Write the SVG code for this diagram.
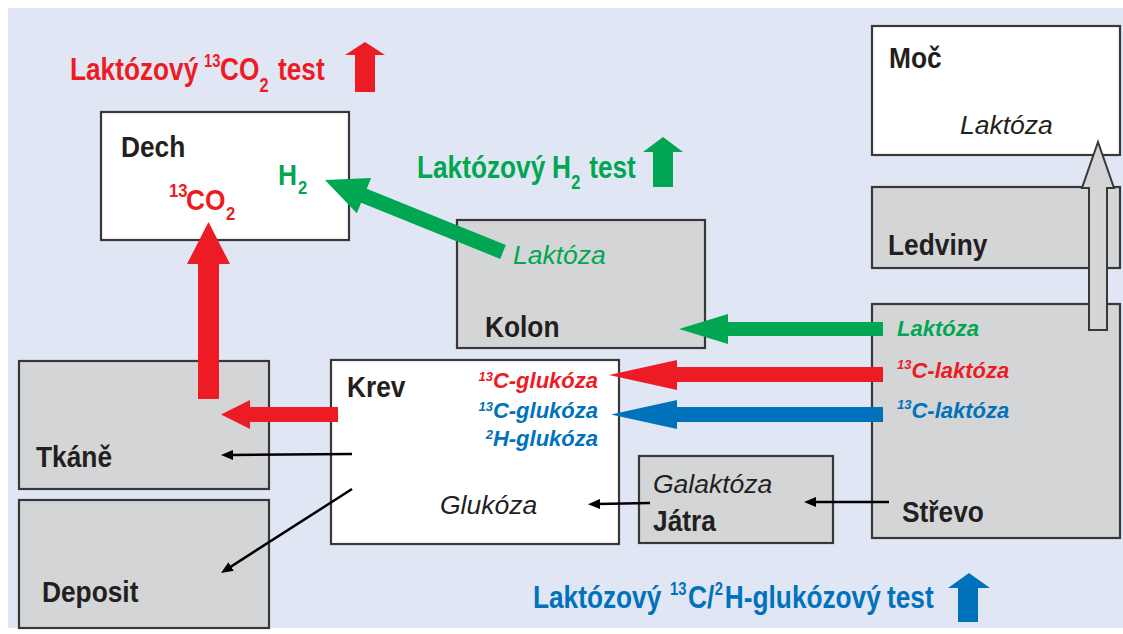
<svg xmlns="http://www.w3.org/2000/svg" width="1123" height="634" viewBox="0 0 1123 634">
  <defs>
    <style>
      .box { stroke: #383838; stroke-width: 2.2; }
      .w { fill: #ffffff; }
      .g { fill: #d4d5d7; }
      .lbl { font-family: "Liberation Sans", Arial, sans-serif; font-weight: bold; font-size: 30px; fill: #231f20; }
      .ttl { font-family: "Liberation Sans", Arial, sans-serif; font-weight: bold; font-size: 32px; }
      .it { font-family: "Liberation Sans", Arial, sans-serif; font-style: italic; font-size: 26.5px; }
      .bi { font-family: "Liberation Sans", Arial, sans-serif; font-weight: bold; font-style: italic; font-size: 22px; }
      .dark { fill: #231f20; }
      .red { fill: #ed1c24; }
      .grn { fill: #00a651; }
      .blu { fill: #0072bc; }
      .thin { stroke: #000; stroke-width: 2.5; fill: none; marker-end: url(#head); }
    </style>
    <marker id="head" markerUnits="userSpaceOnUse" markerWidth="12" markerHeight="10" refX="3" refY="5" orient="auto">
      <path d="M0,0 L12,5 L0,10 z" fill="#000"/>
    </marker>
  </defs>

  <!-- page -->
  <rect x="0" y="0" width="1123" height="634" fill="#ffffff"/>
  <rect x="8" y="8" width="1115" height="620" fill="#e0e6f4"/>

  <!-- test headings with their block arrows -->
  <g id="test-co2">
    <text class="ttl red" transform="translate(70,80) scale(0.82,1)"><tspan x="0" y="0">Laktózový</tspan><tspan x="163.4" y="-13" font-size="18">13</tspan><tspan x="183" y="0">CO</tspan><tspan x="231" y="12" font-size="20">2</tspan><tspan x="253.7" y="0">test</tspan></text>
    <polygon class="red" points="355,92 375,92 375,55 385,55 365,42 345,55 355,55"/>
  </g>
  <g id="test-h2">
    <text class="ttl grn" transform="translate(417,178) scale(0.82,1)"><tspan x="0" y="0">Laktózový</tspan><tspan x="164.6" y="0">H</tspan><tspan x="188" y="11" font-size="20">2</tspan><tspan x="210" y="0">test</tspan></text>
    <polygon class="grn" points="653,187 673,187 673,152 683,152 663,137 643,152 653,152"/>
  </g>
  <g id="test-glucose">
    <text class="ttl blu" transform="translate(533,608) scale(0.82,1)"><tspan x="0" y="0">Laktózový</tspan><tspan x="167.1" y="-13" font-size="18">13</tspan><tspan x="189" y="0">C/</tspan><tspan x="221.5" y="-13" font-size="18">2</tspan><tspan x="234" y="0">H-glukózový</tspan><tspan x="431.7" y="0">test</tspan></text>
    <polygon class="blu" points="958,622 978,622 978,588 990,588 969,573 948,588 958,588"/>
  </g>

  <!-- compartments -->
  <g id="dech">
    <rect class="box w" x="101" y="112" width="248" height="128"/>
    <text class="lbl" transform="translate(121,157) scale(0.877,1)">Dech</text>
    <text class="lbl red" transform="translate(169,210) scale(0.877,1)"><tspan x="0" y="-13" font-size="19">13</tspan><tspan x="19.4" y="0">CO</tspan><tspan x="65" y="10" font-size="19">2</tspan></text>
    <text class="lbl grn" transform="translate(278,185) scale(0.877,1)"><tspan x="0" y="0">H</tspan><tspan x="22.8" y="9" font-size="19">2</tspan></text>
  </g>

  <g id="moc">
    <rect class="box w" x="872" y="26" width="248" height="129"/>
    <text class="lbl" transform="translate(889,68) scale(0.877,1)">Moč</text>
    <text class="it dark" x="960" y="134">Laktóza</text>
  </g>

  <g id="ledviny">
    <rect class="box g" x="872" y="187" width="248" height="81"/>
    <text class="lbl" transform="translate(888,255) scale(0.877,1)">Ledviny</text>
  </g>

  <g id="strevo">
    <rect class="box g" x="872" y="304" width="248" height="234"/>
    <text class="bi grn" x="897" y="336">Laktóza</text>
    <text class="bi red" x="897" y="378"><tspan font-size="13" dy="-9">13</tspan><tspan dy="9">C-laktóza</tspan></text>
    <text class="bi blu" x="897" y="418"><tspan font-size="13" dy="-9">13</tspan><tspan dy="9">C-laktóza</tspan></text>
    <text class="lbl" transform="translate(902,522) scale(0.877,1)">Střevo</text>
  </g>

  <g id="kolon">
    <rect class="box g" x="457" y="220" width="248" height="128"/>
    <text class="it grn" x="513" y="264">Laktóza</text>
    <text class="lbl" transform="translate(485,337) scale(0.877,1)">Kolon</text>
  </g>

  <g id="krev">
    <rect class="box w" x="331" y="360" width="288" height="184"/>
    <text class="lbl" transform="translate(347,397) scale(0.877,1)">Krev</text>
    <text class="bi red" x="598" y="388" text-anchor="end"><tspan font-size="13" dy="-7">13</tspan><tspan dy="7">C-glukóza</tspan></text>
    <text class="bi blu" x="598" y="418" text-anchor="end"><tspan font-size="13" dy="-7">13</tspan><tspan dy="7">C-glukóza</tspan></text>
    <text class="bi blu" x="598" y="446" text-anchor="end"><tspan font-size="13" dy="-7">2</tspan><tspan dy="7">H-glukóza</tspan></text>
    <text class="it dark" x="440" y="514">Glukóza</text>
  </g>

  <g id="jatra">
    <rect class="box g" x="639" y="456" width="194" height="87"/>
    <text class="it dark" x="653" y="493">Galaktóza</text>
    <text class="lbl" transform="translate(653,531) scale(0.877,1)">Játra</text>
  </g>

  <g id="tkane">
    <rect class="box g" x="19" y="361" width="250" height="128"/>
    <text class="lbl" transform="translate(36,467) scale(0.877,1)">Tkáně</text>
  </g>

  <g id="deposit">
    <rect class="box g" x="19" y="500" width="250" height="128"/>
    <text class="lbl" transform="translate(42,602) scale(0.877,1)">Deposit</text>
  </g>

  <!-- connectors -->
  <g id="connectors">
    <!-- 13CO2 pathway -->
    <polygon class="red" points="198,399 219,399 219,264 230,264 208.5,222 187,264 198,264"/>
    <polygon class="red" points="338,407 338,422 250,422 250,429 221,414.5 250,400 250,407"/>
    <polygon class="red" points="883,367 883,382 677,382 677,390 609,375 677,360 677,367"/>
    <!-- H2 pathway -->
    <polygon class="grn" points="883,322 883,336 728,336 728,344 679,329 728,314 728,322"/>
    <polygon class="grn" transform="translate(325,180) rotate(22)" points="0,0 42,-19 42,-7.5 192,-7.5 192,7.5 42,7.5 42,19"/>
    <!-- 13C / 2H glucose pathway -->
    <polygon class="blu" points="883,407 883,422 677,422 677,429 611,414.5 677,400 677,407"/>
    <!-- urinary lactose -->
    <polygon points="1089,330 1107,330 1107,188 1114,188 1098,142 1082,188 1089,188" fill="#d4d5d7" stroke="#383838" stroke-width="2"/>
    <!-- metabolic flows -->
    <line class="thin" x1="352" y1="454" x2="230" y2="455"/>
    <line class="thin" x1="352" y1="489" x2="228.6" y2="568.1"/>
    <line class="thin" x1="650" y1="503" x2="597" y2="504"/>
    <line class="thin" x1="889" y1="502" x2="813" y2="502"/>
  </g>
</svg>
